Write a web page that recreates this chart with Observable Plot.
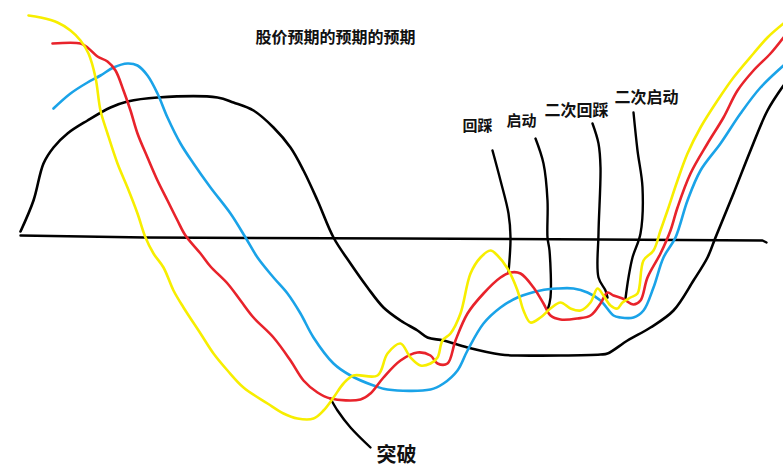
<!DOCTYPE html>
<html>
<head>
<meta charset="utf-8">
<script src="https://cdn.jsdelivr.net/npm/d3@7"></script>
<script src="https://cdn.jsdelivr.net/npm/@observablehq/plot@0.6"></script>
<style>
  html, body { margin: 0; padding: 0; background: #fff; }
  #chart svg { display: block; }
</style>
</head>
<body>
<div id="chart"></div>
<script>
// Values: x position along time, y value relative to the zero line
const blackX  = [20,33,43,53,67,87,110,127,157,217,233,253,273,290,303,317,333,350,367,383,400,417,427,443,467,500,517,600,607,627,650,673,693,707,715,733,750,767,783];
const blackY  = [7,38,75,91,105,118,131,137,141,141,136,128,111,91,68,38,1,-25,-49,-69,-82,-92,-99,-102,-109,-116,-117,-116,-115,-102,-89,-72,-42,-19,1,45,88,128,153];

const yellowX = [28,40,57,70,80,88,95,100,107,117,127,137,145,153,163,173,183,200,213,227,243,267,283,297,313,323,333,343,353,377,387,400,410,420,430,437,442,450,460,470,480,490,497,507,517,523,530,540,550,560,570,580,590,597,603,610,617,622,630,637,643,653,660,667,677,687,700,717,733,753,767,783];
const yellowY = [223,221,216,208,198,185,161,128,105,75,51,25,1,-15,-29,-52,-69,-95,-115,-132,-149,-165,-175,-180,-180,-172,-159,-145,-137,-137,-115,-105,-119,-127,-125,-119,-102,-95,-75,-35,-19,-12,-17,-30,-52,-72,-84,-79,-70,-64,-70,-72,-64,-50,-57,-67,-70,-64,-59,-55,-22,-12,8,28,58,85,111,138,161,185,201,215];

const redX    = [52,80,87,97,107,115,123,130,137,147,157,167,177,185,200,210,227,240,253,273,290,303,317,330,360,370,383,400,417,430,437,447,455,467,483,500,510,520,533,543,550,560,577,590,600,607,613,622,633,640,647,660,670,677,690,707,723,737,753,770,783];
const redY    = [195,195,191,182,177,168,148,128,105,81,58,38,18,3,-15,-28,-45,-62,-79,-99,-122,-142,-154,-160,-161,-155,-139,-122,-114,-117,-125,-125,-102,-75,-55,-39,-34,-35,-49,-65,-77,-81,-80,-77,-65,-54,-57,-60,-66,-62,-39,-15,8,31,65,95,121,148,168,185,201];

const blueX   = [53,70,87,100,113,127,137,147,157,167,180,193,210,230,245,257,273,287,300,313,333,350,373,387,430,443,457,467,483,500,517,540,557,573,587,600,613,620,633,643,653,663,675,687,700,720,740,760,783];
const blueY   = [130,145,156,163,171,175,173,163,145,121,95,75,51,25,1,-19,-39,-55,-75,-99,-125,-137,-147,-151,-151,-145,-132,-112,-85,-69,-59,-52,-50,-50,-54,-62,-77,-79,-79,-72,-49,-19,1,38,68,95,125,151,173];

const axisX   = [20,145,400,600,762,766];
const axisY   = [3,1,0,-1,-2,-4];

// Pointer strokes drawn to the labels
const pointerNames = ["突破","回踩","启动","二次回踩","二次启动"];
const pointerX = [
  [330,337,350,370],
  [492,500,508,510,508],
  [535,543,547,547,549,550,547],
  [592,598,600,598,598,605,607],
  [633,637,642,640,632,628,625]
];
const pointerY = [
  [-160,-172,-189,-209],
  [88,58,25,1,-34],
  [100,75,38,1,-12,-59,-72],
  [115,95,71,5,-39,-52,-59],
  [126,88,51,5,-19,-39,-60]
];

// Labels
const labelText = ["回踩","启动","二次回踩","二次启动","突破"];
const labelX    = [477,521,576,646,396];
const labelY    = [112,117,128,141,-217];
const labelSize = [15,15,16,16,20];

const titleText = "股价预期的预期的预期";
const titleX = 335, titleY = 201;

const toPts = (xs, ys, name) => xs.map((x, i) => ({x, y: ys[i], name}));

const series = [
  {name: "black",  color: "#000000", pts: toPts(blackX, blackY)},
  {name: "blue",   color: "#1aa3e8", pts: toPts(blueX, blueY)},
  {name: "red",    color: "#e8232b", pts: toPts(redX, redY)},
  {name: "yellow", color: "#f7ee00", pts: toPts(yellowX, yellowY)}
];

const pointers = pointerNames.map((n, i) => toPts(pointerX[i], pointerY[i], n));
const labels = labelText.map((t, i) => ({t, x: labelX[i], y: labelY[i], s: labelSize[i]}));

const marks = [];
marks.push(Plot.line(toPts(axisX, axisY), {x: "x", y: "y", stroke: "#000", strokeWidth: 2.4}));
for (const p of pointers) {
  marks.push(Plot.line(p, {x: "x", y: "y", stroke: "#000", strokeWidth: 2.4, curve: "catmull-rom"}));
}
for (const s of series) {
  marks.push(Plot.line(s.pts, {x: "x", y: "y", stroke: s.color, strokeWidth: 2.6, curve: "catmull-rom"}));
}
for (const l of labels) {
  marks.push(Plot.text([l], {x: "x", y: "y", text: "t", fontSize: l.s, fontWeight: "bold", fill: "#111"}));
}
marks.push(Plot.text([{t: titleText, x: titleX, y: titleY}], {x: "x", y: "y", text: "t", fontSize: 16, fontWeight: "bold", fill: "#111"}));

const chart = Plot.plot({
  width: 783,
  height: 475,
  marginTop: 0, marginBottom: 0, marginLeft: 0, marginRight: 0,
  x: {domain: [0, 783], axis: null},
  y: {domain: [-237, 238], axis: null},
  style: {fontFamily: "'Noto Sans CJK SC', 'Noto Sans', sans-serif", background: "#fff", overflow: "visible"},
  marks
});
document.getElementById("chart").appendChild(chart);
</script>
</body>
</html>
